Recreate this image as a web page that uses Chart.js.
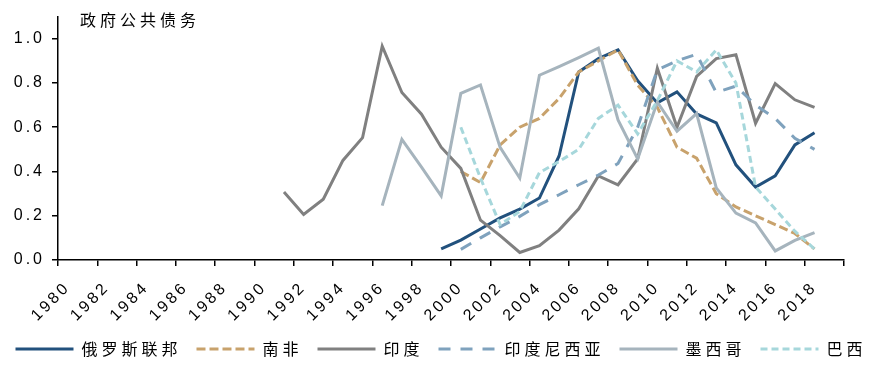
<!DOCTYPE html>
<html>
<head>
<meta charset="utf-8">
<script src="https://cdn.jsdelivr.net/npm/chart.js@4/dist/chart.umd.min.js"></script>
<style>
  body { margin: 0; background: #fff; }
  canvas { display: block; }
</style>
</head>
<body>
<canvas id="chart" width="882" height="367"></canvas>
<script>
// Categories: one per year, 1980-2019
const years = Array.from({ length: 40 }, (_, i) => String(1980 + i));

// Series values, each with its first year
const russiaStart = 1999;
const russia = [0.05, 0.09, 0.14, 0.19, 0.23, 0.28, 0.47, 0.85, 0.91, 0.95, 0.81, 0.71, 0.76, 0.66, 0.62, 0.43, 0.33, 0.38, 0.52, 0.575];
const southAfricaStart = 2000;
const southAfrica = [0.40, 0.35, 0.52, 0.60, 0.64, 0.73, 0.85, 0.90, 0.95, 0.79, 0.69, 0.51, 0.46, 0.30, 0.24, 0.20, 0.16, 0.12, 0.05];
const indiaStart = 1991;
const india = [0.307, 0.206, 0.275, 0.45, 0.553, 0.966, 0.757, 0.659, 0.51, 0.414, 0.18, 0.11, 0.034, 0.065, 0.135, 0.231, 0.38, 0.34, 0.457, 0.867, 0.60, 0.83, 0.91, 0.928, 0.618, 0.797, 0.724, 0.69];
const indonesiaStart = 2000;
const indonesia = [0.048, 0.10, 0.15, 0.197, 0.25, 0.295, 0.34, 0.384, 0.436, 0.60, 0.86, 0.90, 0.93, 0.757, 0.786, 0.70, 0.64, 0.55, 0.50];
const mexicoStart = 1996;
const mexico = [0.246, 0.545, 0.42, 0.29, 0.753, 0.791, 0.509, 0.37, 0.835, 0.874, 0.915, 0.957, 0.633, 0.457, 0.714, 0.582, 0.662, 0.326, 0.212, 0.168, 0.041, 0.089, 0.124];
const brazilStart = 2000;
const brazil = [0.60, 0.37, 0.16, 0.22, 0.395, 0.445, 0.50, 0.64, 0.70, 0.57, 0.72, 0.90, 0.85, 0.95, 0.80, 0.33, 0.23, 0.13, 0.05];

// Y tick labels
const yTicks = [0, 0.2, 0.4, 0.6, 0.8, 1.0];

// put a series onto the full year axis
function pad(start, values) {
    const out = years.map(() => null);
    values.forEach((v, i) => { out[start - 1980 + i] = v; });
    return out;
}

const cjk = '"Noto Sans CJK SC", "Noto Sans", sans-serif';
const num = '"Liberation Sans", Arial, sans-serif';

const canvas = document.getElementById('chart');
const ctx = canvas.getContext('2d');

// the original uses wide letter spacing everywhere; canvas resizes reset it,
// so apply it right before every text measure / draw
const proto = CanvasRenderingContext2D.prototype;
function spacingFor(font) {
    return font.indexOf('CJK') >= 0 ? '4px' : '3px';
}
ctx.fillText = function () {
    this.letterSpacing = spacingFor(this.font);
    return proto.fillText.apply(this, arguments);
};
ctx.measureText = function () {
    this.letterSpacing = spacingFor(this.font);
    return proto.measureText.apply(this, arguments);
};

// title text inside the plot, top left
const titlePlugin = {
    id: 'cornerTitle',
    afterDraw(chart) {
        const c = chart.ctx;
        c.save();
        c.font = '16px ' + cjk;
        c.fillStyle = '#000';
        c.textBaseline = 'middle';
        c.fillText('政府公共债务', 80, 20);
        c.restore();
    }
};

function line(label, data, color, dash, order) {
    return {
        label: label,
        data: data,
        borderColor: color,
        backgroundColor: color,
        borderWidth: 3,
        borderDash: dash,
        pointRadius: 0,
        tension: 0,
        fill: false,
        order: order
    };
}

const chart = new Chart(ctx, {
    type: 'line',
    data: {
        labels: years,
        datasets: [
            line('俄罗斯联邦', pad(russiaStart, russia), '#22517d', [], 6),
            line('南非', pad(southAfricaStart, southAfrica), '#c8a26c', [9, 4], 5),
            line('印度', pad(indiaStart, india), '#808080', [], 4),
            line('印度尼西亚', pad(indonesiaStart, indonesia), '#7fa2bd', [12, 10], 3),
            line('墨西哥', pad(mexicoStart, mexico), '#a6b4bd', [], 2),
            line('巴西', pad(brazilStart, brazil), '#a6d7db', [7, 4], 1)
        ]
    },
    options: {
        responsive: false,
        devicePixelRatio: 1,
        animation: false,
        layout: { padding: { top: 11, right: 0, left: 0, bottom: 0 } },
        plugins: {
            legend: {
                position: 'bottom',
                labels: {
                    usePointStyle: true,
                    pointStyleWidth: 58,
                    boxHeight: 16,
                    padding: 15,
                    color: '#000',
                    font: { family: cjk, size: 16 },
                    generateLabels: c => c.data.datasets.map((ds, i) => ({
                        text: ds.label,
                        fillStyle: ds.borderColor,
                        strokeStyle: ds.borderColor,
                        fontColor: '#000',
                        lineWidth: 3,
                        lineDash: ds.borderDash,
                        lineCap: 'butt',
                        pointStyle: 'line',
                        hidden: false,
                        datasetIndex: i
                    }))
                }
            },
            tooltip: { enabled: false }
        },
        scales: {
            x: {
                type: 'category',
                offset: true,
                afterFit: s => { s.height = 66; },
                border: { color: '#000', width: 1.5 },
                grid: {
                    offset: true,
                    drawOnChartArea: false,
                    drawTicks: true,
                    tickLength: 6,
                    lineWidth: 1.5,
                    color: c => (c.index === undefined || c.index % 2 === 0) ? '#000' : 'rgba(0,0,0,0)'
                },
                ticks: {
                    autoSkip: false,
                    minRotation: 45,
                    maxRotation: 45,
                    padding: 12,
                    color: '#000',
                    font: { family: num, size: 16 },
                    callback: (v, i) => i % 2 === 0 ? years[i] : ''
                }
            },
            y: {
                min: 0,
                max: 1.1,
                afterFit: s => { s.width = 58; },
                afterBuildTicks: s => { s.ticks = yTicks.map(v => ({ value: v })); },
                border: { color: '#000', width: 1.5 },
                grid: {
                    drawOnChartArea: false,
                    drawTicks: true,
                    tickLength: 6,
                    lineWidth: 1.5,
                    color: '#000'
                },
                ticks: {
                    padding: 7,
                    color: '#000',
                    font: { family: num, size: 16 },
                    callback: v => Number(v).toFixed(1)
                }
            },
            // empty right-hand scale, only to leave the gap right of the plot
            yRight: {
                position: 'right',
                afterFit: s => { s.width = 38; },
                grid: { display: false },
                border: { display: false },
                ticks: { display: false }
            }
        }
    },
    plugins: [titlePlugin]
});
</script>
</body>
</html>
